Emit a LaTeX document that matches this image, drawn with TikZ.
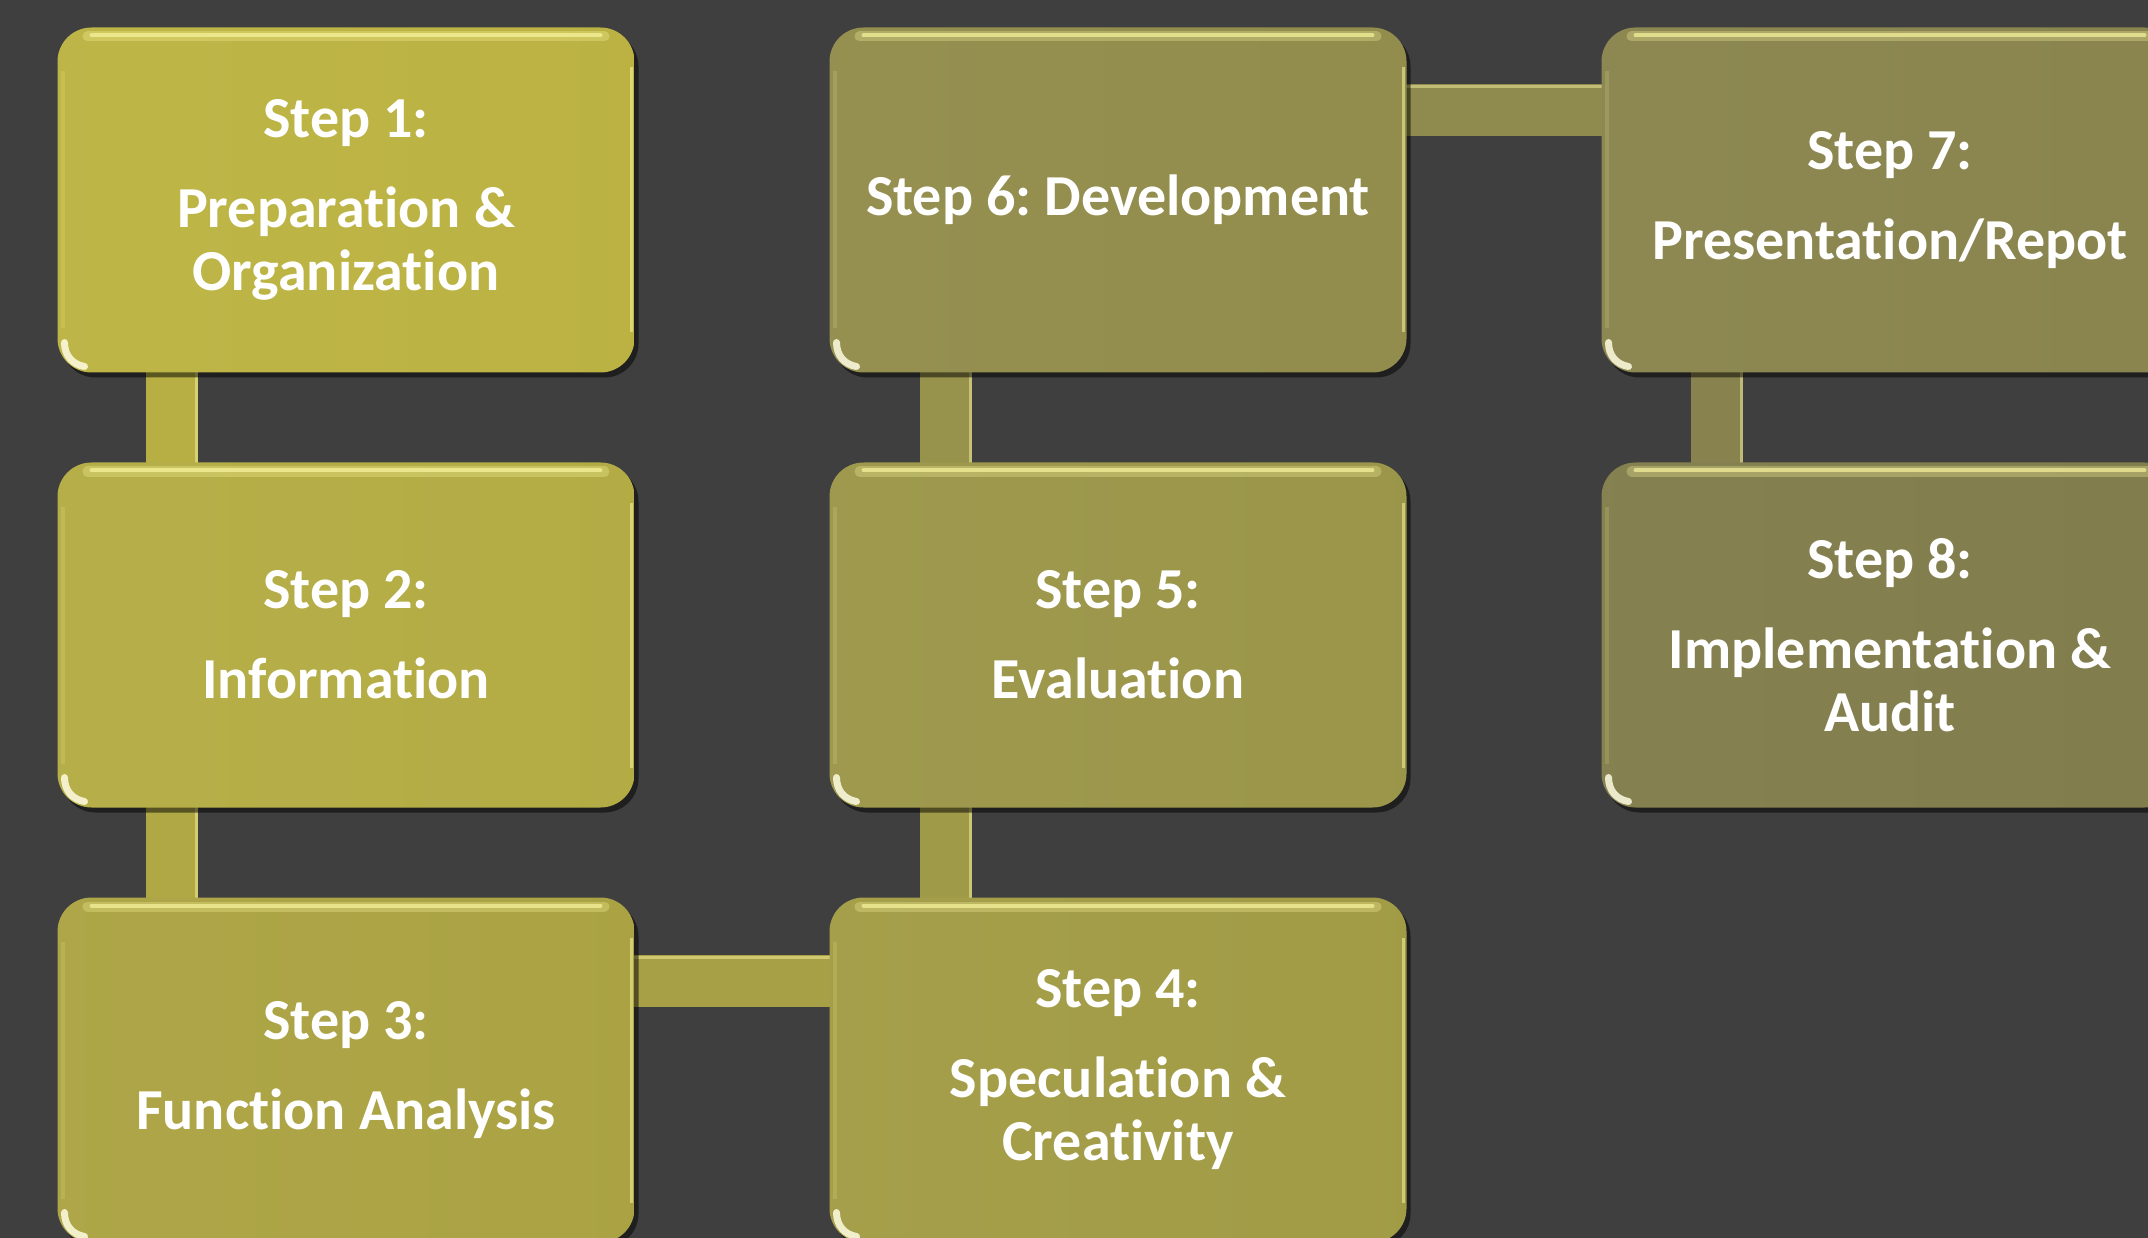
\documentclass[tikz,border=0pt]{standalone}
\usepackage{fontspec}
\setmainfont{Carlito}[Ligatures=NoCommon]
\usetikzlibrary{shadows,calc}
\pgfdeclarelayer{bars}
\pgfsetlayers{bars,main}
\definecolor{bgc}{HTML}{3F3F3F}
\definecolor{hly}{HTML}{FBF6A0}
\definecolor{c1}{HTML}{BDB444}
\definecolor{c2}{HTML}{B5AD45}
\definecolor{c3}{HTML}{ACA444}
\definecolor{c4}{HTML}{A39D47}
\definecolor{c5}{HTML}{9C974A}
\definecolor{c6}{HTML}{938E4D}
\definecolor{c7}{HTML}{8B864F}
\definecolor{c8}{HTML}{837E4D}
\definecolor{b12}{HTML}{B8AF44}
\definecolor{b23}{HTML}{B0A845}
\definecolor{b34}{HTML}{A8A046}
\definecolor{b45}{HTML}{9F9A48}
\definecolor{b56}{HTML}{97924C}
\definecolor{b67}{HTML}{8F8A4E}
\definecolor{b78}{HTML}{87824E}
\begin{document}
\frenchspacing
\begin{tikzpicture}[x=1pt,y=-1pt,
  stepbox/.style={rounded corners=34pt, minimum width=577pt, minimum height=345pt,
    inner sep=0pt, align=center, text=white,
    font=\bfseries\fontsize{58}{63}\selectfont,
    left color=#1!98!white, right color=#1!99!black,
    drop shadow={shadow xshift=4pt,shadow yshift=-5pt,opacity=.5,fill=black},
    path picture={
      \draw[line width=10pt, #1!50!hly, line cap=round, opacity=.6]
        ([shift={(30pt,-9pt)}]path picture bounding box.north west) --
        ([shift={(-30pt,-9pt)}]path picture bounding box.north east);
      \draw[line width=4pt, #1!20!hly, line cap=round, opacity=.95]
        ([shift={(34pt,-8pt)}]path picture bounding box.north west) --
        ([shift={(-34pt,-8pt)}]path picture bounding box.north east);
      \draw[line width=4pt, #1!65!hly, opacity=.45]
        ([shift={(5pt,-44pt)}]path picture bounding box.north west) --
        ([shift={(5pt,44pt)}]path picture bounding box.south west);
      \draw[line width=3pt, #1!35!hly, opacity=.8]
        ([shift={(-3pt,-40pt)}]path picture bounding box.north east) --
        ([shift={(-3pt,40pt)}]path picture bounding box.south east);
      \draw[line width=7pt, white!70!hly, opacity=.85, line cap=round]
        ([shift={(7pt,30pt)}]path picture bounding box.south west) .. controls
        ([shift={(7pt,17pt)}]path picture bounding box.south west) and
        ([shift={(15pt,8pt)}]path picture bounding box.south west) ..
        ([shift={(27pt,6pt)}]path picture bounding box.south west);
    }},
  barv/.style={line width=52pt, draw=#1},
  barhl/.style={line width=3pt, draw=#1!40!hly, opacity=.8}]

\clip (0,0) rectangle (2148,1238);
\useasboundingbox (0,0) rectangle (2148,1238);

\node[stepbox=c1] (s1) at (346,200) {Step 1:\\[27pt]Preparation \&\\Organization};
\node[stepbox=c2] (s2) at (346,635) {Step 2:\\[27pt]Information};
\node[stepbox=c3] (s3) at (346,1070) {Step 3:\\[27pt]Function Analysis};
\node[stepbox=c4] (s4) at (1118,1070) {Step 4:\\[27pt]Speculation \&\\Creativity};
\node[stepbox=c5] (s5) at (1118,635) {Step 5:\\[27pt]Evaluation};
\node[stepbox=c6] (s6) at (1118,200) {Step 6: Development};
\node[stepbox=c7] (s7) at (1890,200) {Step 7:\\[27pt]Presentation/Repot};
\node[stepbox=c8] (s8) at (1890,635) {Step 8:\\[27pt]Implementation \&\\Audit};

\begin{pgfonlayer}{bars}
\fill[bgc] (0,0) rectangle (2148,1238);
% vertical bars
\draw[barv=b12] ([shift={(115pt,10pt)}]s1.south west) -- ([shift={(115pt,-10pt)}]s2.north west);
\draw[barhl=b12] ([shift={(139pt,10pt)}]s1.south west) -- ([shift={(139pt,-10pt)}]s2.north west);
\draw[barv=b23] ([shift={(115pt,10pt)}]s2.south west) -- ([shift={(115pt,-10pt)}]s3.north west);
\draw[barhl=b23] ([shift={(139pt,10pt)}]s2.south west) -- ([shift={(139pt,-10pt)}]s3.north west);
\draw[barv=b45] ([shift={(117pt,10pt)}]s5.south west) -- ([shift={(117pt,-10pt)}]s4.north west);
\draw[barhl=b45] ([shift={(141pt,10pt)}]s5.south west) -- ([shift={(141pt,-10pt)}]s4.north west);
\draw[barv=b56] ([shift={(117pt,10pt)}]s6.south west) -- ([shift={(117pt,-10pt)}]s5.north west);
\draw[barhl=b56] ([shift={(141pt,10pt)}]s6.south west) -- ([shift={(141pt,-10pt)}]s5.north west);
\draw[barv=b78] ([shift={(116pt,10pt)}]s7.south west) -- ([shift={(116pt,-10pt)}]s8.north west);
\draw[barhl=b78] ([shift={(140pt,10pt)}]s7.south west) -- ([shift={(140pt,-10pt)}]s8.north west);
% horizontal bars
\draw[barv=b34] ([shift={(-10pt,-84pt)}]s3.north east) -- ([shift={(10pt,-84pt)}]s4.north west);
\draw[barhl=b34] ([shift={(-10pt,-60pt)}]s3.north east) -- ([shift={(10pt,-60pt)}]s4.north west);
\draw[barv=b67] ([shift={(-10pt,-83pt)}]s6.north east) -- ([shift={(10pt,-83pt)}]s7.north west);
\draw[barhl=b67] ([shift={(-10pt,-59pt)}]s6.north east) -- ([shift={(10pt,-59pt)}]s7.north west);
\end{pgfonlayer}
\end{tikzpicture}
\end{document}
